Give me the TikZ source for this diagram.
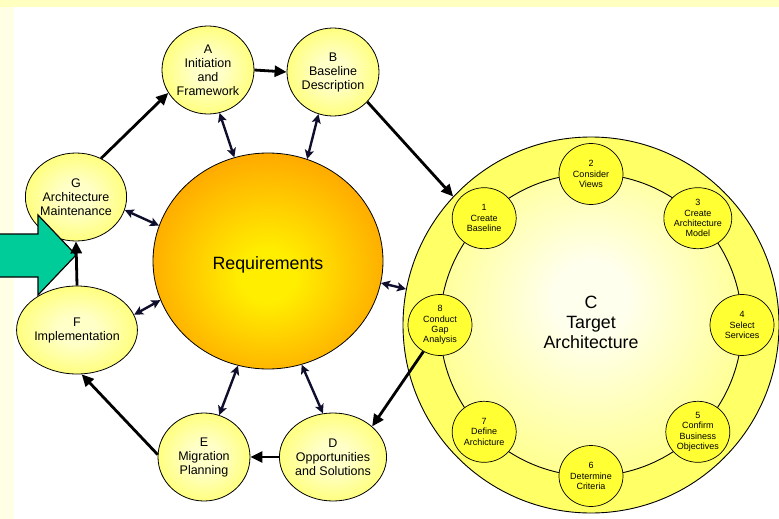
\documentclass[tikz,border=0pt]{standalone}
\usepackage{fontspec}
\setmainfont{Liberation Sans}
\usetikzlibrary{shapes.geometric,arrows.meta}
\definecolor{phasein}{RGB}{255,255,200}
\definecolor{phaseout}{RGB}{255,255,85}
\definecolor{reqin}{RGB}{255,238,0}
\definecolor{reqout}{RGB}{255,140,0}
\definecolor{bandyellow}{RGB}{255,255,102}
\definecolor{ringin}{RGB}{255,255,238}
\definecolor{stepyellow}{RGB}{255,255,51}
\definecolor{linknavy}{RGB}{15,15,45}
\definecolor{greenarrow}{RGB}{0,204,153}
\definecolor{topstrip}{RGB}{255,255,192}
\definecolor{leftstrip}{RGB}{255,255,230}
\pgfdeclareradialshading{phaseshade}{\pgfpoint{0bp}{0bp}}{color(0bp)=(phasein); color(8bp)=(phasein); color(35bp)=(phaseout); color(50bp)=(phaseout)}
\pgfdeclareradialshading{reqshade}{\pgfpoint{0bp}{-4bp}}{color(0bp)=(reqin); color(6bp)=(reqin); color(36bp)=(reqout); color(50bp)=(reqout)}
\pgfdeclareradialshading{ringshade}{\pgfpoint{0bp}{5bp}}{color(0bp)=(ringin); color(6bp)=(ringin); color(37bp)=(bandyellow); color(50bp)=(bandyellow)}
\tikzset{
  phase/.style={ellipse, draw=black, line width=0.8pt, minimum width=92pt, minimum height=88pt,
    inner sep=0pt, align=center, shading=phaseshade, font={\fontsize{12.5}{14}\selectfont}},
  stepnode/.style={ellipse, draw=black, line width=0.7pt, fill=stepyellow, minimum width=64pt,
    minimum height=61pt, inner sep=0pt, align=center, font={\fontsize{9}{10.3}\selectfont}},
  flow/.style={line width=2.8pt, -{Triangle[length=12pt,width=11pt]}},
  link/.style={draw=linknavy, line width=2.4pt, {Stealth[length=9pt,width=9pt,inset=2pt]}-{Stealth[length=9pt,width=9pt,inset=2pt]}},
}
\begin{document}
\begin{tikzpicture}[x=1pt,y=-1pt]
\useasboundingbox (0,0) rectangle (779,519);
% background
\fill[white] (0,0) rectangle (779,519);
\fill[topstrip] (0,0) rectangle (779,7);
\fill[leftstrip] (0,7) rectangle (14,519);
% target architecture
\node[circle, draw=black, line width=0.9pt, fill=bandyellow, minimum size=376pt, inner sep=0pt] (C) at (591,325) {};
\path[draw=black, line width=0.9pt, shading=ringshade] (C.center) circle (151pt);
\node[align=center, font={\fontsize{17.8}{20}\selectfont}] (Ctitle) at (591,322) {C\\Target\\Architecture};
\node[stepnode] (s1) at (484.2,218.2) {1\\Create\\Baseline};
\node[stepnode] (s2) at (591,174) {2\\Consider\\Views};
\node[stepnode] (s3) at (697.8,218.2) {3\\Create\\Architecture\\Model};
\node[stepnode] (s4) at (742,325) {4\\Select\\Services};
\node[stepnode] (s5) at (697.8,431.8) {5\\Confirm\\Business\\Objectives};
\node[stepnode] (s6) at (591,476) {6\\Determine\\Criteria};
\node[stepnode] (s7) at (484.2,431.8) {7\\Define\\Archicture};
\node[stepnode] (s8) at (440,325) {8\\Conduct\\Gap\\Analysis};
% requirements
\node[ellipse, draw=black, line width=0.8pt, minimum width=230pt, minimum height=216pt, inner sep=0pt,
  text height=16.8pt, text depth=0pt,
  shading=reqshade, font={\fontsize{17.8}{20}\selectfont}] (Req) at (268,261) {Requirements};
% phases
\node[phase] (A) at (208,70) {A\\Initiation\\and\\Framework};
\node[phase] (B) at (333,72) {B\\Baseline\\Description};
\node[phase] (G) at (76,197) {G\\Architecture\\Maintenance};
\node[phase] (F) at (77,330) {F\\Implementation};
\node[phase] (E) at (204,457) {E\\Migration\\Planning};
\node[phase] (D) at (333,457) {D\\Opportunities\\and Solutions};
% entry arrow
\draw[line width=1.2pt, fill=greenarrow] (0,234) -- (38,234) -- (38,215) -- (76,255) -- (38,295) -- (38,277) -- (0,277);
% cycle arrows
\draw[flow] (G.57) -- (A.210);
\draw[flow] (A.0) -- (B.180);
\draw[flow] (B.-41) -- (C.137);
\draw[flow] (s8.238) -- (D.38);
\draw[flow] (D.180) -- (E.0);
\draw[flow] (E.177) -- (F.-84);
\draw[flow] (F.90) -- (G.-90);
% links to requirements
\draw[link] (Req.108) -- (A.-75);
\draw[link] (Req.69) -- (B.-109);
\draw[link] (Req.162.5) -- (G.-15);
\draw[link] (Req.200) -- (F.15);
\draw[link] (Req.254) -- (E.70);
\draw[link] (Req.288) -- (D.103);
\draw[link] (Req.-11.6) -- (C.169);
\end{tikzpicture}
\end{document}
